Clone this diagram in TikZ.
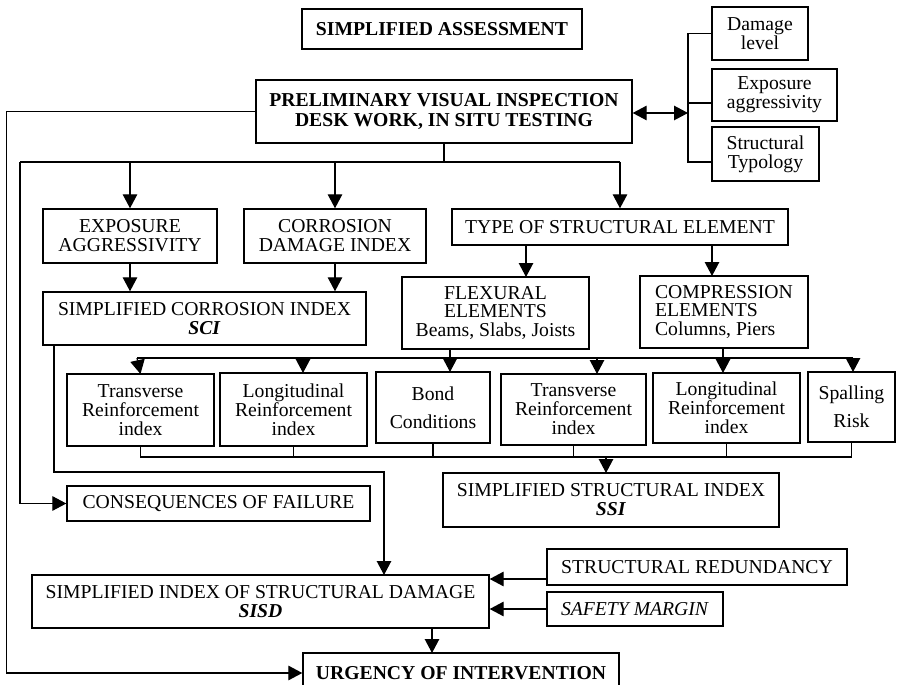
\documentclass[tikz,border=0pt]{standalone}
\usepackage{fontspec}
\setmainfont{Liberation Serif}
\usetikzlibrary{arrows.meta, calc, positioning}
\tikzstyle{box} = [draw, rectangle, line width=0.8pt,
align=center, inner sep=1pt,
font=\fontsize{11.2}{10.8}\selectfont]
\tikzstyle{boldbox} = [box, font=\fontsize{11.2}{11.6}\selectfont\bfseries]
\tikzstyle{arr} = [-{Triangle[length=2.8mm, width=2.9mm]}]
\tikzstyle{dblarr} = [{Triangle[length=2.8mm, width=2.9mm]}-{Triangle[length=2.8mm, width=2.9mm]}]

\begin{document}
\begin{tikzpicture}[x=0.02cm, y=-0.02cm, line width=0.7pt]
	\useasboundingbox (0,0) rectangle (898,685);
	\clip (0,0) rectangle (898,685);
	%% Top boxes
	\node[boldbox, minimum width=5.6cm, minimum height=0.8cm](assess) at (442,29) {SIMPLIFIED ASSESSMENT};
	\node[boldbox, minimum width=7.52cm, minimum height=1.26cm](prelim) at (444,111.5) {PRELIMINARY VISUAL INSPECTION\\
		DESK WORK, IN SITU TESTING};
	\node[box, minimum width=1.92cm, minimum height=1.06cm](damage) at (760,33.5) {Damage\\ level};
	\node[box, minimum width=2.5cm, minimum height=1.04cm](aggr) at (774.5,95) {Exposure\\ aggressivity};
	\node[box, minimum width=2.14cm, minimum height=1.08cm](typo) at (765.5,154) {Structural\\ Typology};
	%% Second row
	\node[box, minimum width=3.48cm, minimum height=1.08cm](exposure) at (130,236) {EXPOSURE\\ AGGRESSIVITY};
	\node[box, minimum width=3.64cm, minimum height=1.08cm](corrosion) at (335,236) {CORROSION\\ DAMAGE INDEX};
	\node[box, minimum width=6.72cm, minimum height=0.72cm](type) at (620,227) {TYPE OF STRUCTURAL ELEMENT};
	\node[box, minimum width=6.46cm, minimum height=1.06cm](sci) at (204.5,318.5) {SIMPLIFIED CORROSION INDEX\\
		\textbf{\textit{SCI}}};
	\node[box, minimum width=3.74cm, minimum height=1.44cm](flex) at (495.5,313) {FLEXURAL\\ ELEMENTS\\ Beams, Slabs, Joists};
	\node[box, align=left, minimum width=3.36cm, minimum height=1.44cm](comp) at (724,312) {COMPRESSION\\ ELEMENTS\\ Columns, Piers};
	%% Indexes
	\node[box, minimum width=2.94cm, minimum height=1.44cm](trans1) at (140.5,410) {Transverse\\ Reinforcement\\ index};
	\node[box, minimum width=2.94cm, minimum height=1.46cm](long1) at (293.5,409.5) {Longitudinal\\ Reinforcement\\ index};
	\node[box, minimum width=2.28cm, minimum height=1.42cm](bond) at (433,407.5) {Bond\\[5pt] Conditions};
	\node[box, minimum width=2.9cm, minimum height=1.42cm](trans2) at (573.5,409.5) {Transverse\\ Reinforcement\\ index};
	\node[box, minimum width=2.94cm, minimum height=1.4cm](long2) at (726.5,408) {Longitudinal\\ Reinforcement\\ index};
	\node[box, minimum width=1.74cm, minimum height=1.4cm](spall) at (851.5,407) {Spalling\\[5pt] Risk};
	%% Lower part
	\node[box, minimum width=6.72cm, minimum height=1.08cm](ssi) at (611,500) {SIMPLIFIED STRUCTURAL INDEX\\
		\textbf{\textit{SSI}}};
	\node[box, minimum width=6.06cm, minimum height=0.7cm](conseq) at (218.5,503.5) {CONSEQUENCES OF FAILURE};
	\node[box, minimum width=9.14cm, minimum height=1.06cm](sisd) at (260.5,601.5) {SIMPLIFIED INDEX OF STRUCTURAL DAMAGE\\
		\textbf{\textit{SISD}}};
	\node[box, minimum width=6cm, minimum height=0.72cm](redund) at (697,567) {STRUCTURAL REDUNDANCY};
	\node[box, minimum width=3.52cm, minimum height=0.68cm](safety) at (635,609) {\textit{SAFETY MARGIN}};
	\node[boldbox, minimum width=6.32cm, minimum height=0.8cm](urgency) at (461,673) {URGENCY OF INTERVENTION};
	%% Junction points
	\coordinate (br) at (688,113);
	\coordinate (busA) at (20,162);
	\coordinate (busB) at (137,358);
	\coordinate (busC) at (137,457);
	\coordinate (sciLine) at (54,472);
	%% Preliminary to the side boxes
	\draw[dblarr] (prelim.east |- br) -- (br);
	\draw (damage.west) -| (br) |- (typo.west |- 0,162);
	\draw (br |- 0,103) -- (aggr.west |- 0,103);
	%% Preliminary to second row
	\draw (prelim.south) -- (prelim.south |- busA);
	\draw (busA) -- (type.north |- busA);
	\draw[arr] (busA) |- (conseq.west);
	\draw[arr] (exposure.north |- busA) -- (exposure.north);
	\draw[arr] (corrosion.north |- busA) -- (corrosion.north);
	\draw[arr] (type.north |- busA) -- (type.north);
	\draw[arr] (prelim.west) -- ++(-249,0) |- (urgency.west);
	%% Corrosion index
	\draw[arr] (exposure.south) -- (exposure.south |- sci.north);
	\draw[arr] (corrosion.south) -- (corrosion.south |- sci.north);
	%% Element type
	\draw[arr] (526,245) -- (526,277);
	\draw[arr] (712,245) -- (712,276);
	%% Elements to indexes
	\draw (450,349) -- (450,358);
	\draw (723,348) -- (723,358);
	\draw (busB) -- (853,358);
	\draw[arr] (busB) -- (trans1.north |- 0,374);
	\draw[arr] (303,358) -- (303,373);
	\draw[arr] (450,358) -- (450,372);
	\draw[arr] (597,358) -- (597,374);
	\draw[arr] (723,358) -- (723,373);
	\draw[arr] (853,358) -- (853,372);
	%% Indexes to SSI
	\draw (trans1.south) -- (trans1.south |- busC) -- (spall.south |- busC) -- (spall.south);
	\draw (long1.south) -- (long1.south |- busC);
	\draw (bond.south) -- (bond.south |- busC);
	\draw (trans2.south) -- (trans2.south |- busC);
	\draw (long2.south) -- (long2.south |- busC);
	\draw[arr] (606,457) -- (606,473);
	%% SCI to SISD
	\draw[arr] (sciLine |- sci.south) -- (sciLine) -| (384,575);
	%% Redundancy and safety margin
	\draw[arr] ($(redund.west)+(0,12)$) -- (sisd.east |- 0,579);
	\draw[arr] (safety.west) -- (sisd.east |- safety.west);
	%% SISD to urgency
	\draw[arr] (432,628) -- (432,653);
\end{tikzpicture}
\end{document}
